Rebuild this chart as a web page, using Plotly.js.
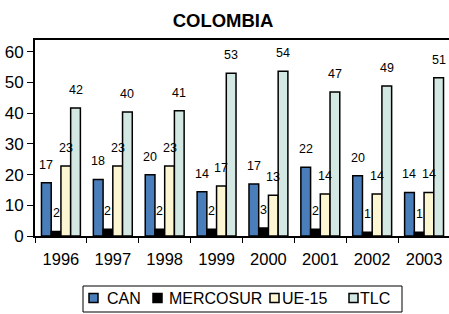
<!DOCTYPE html>
<html>
<head>
<meta charset="utf-8">
<script src="https://cdn.plot.ly/plotly-3.0.1.min.js"></script>
<style>
html,body{margin:0;padding:0;background:#fff;overflow:hidden;}
#chart{width:451px;height:314px;}
</style>
</head>
<body>
<div id="chart"></div>
<script>
const years = ['1996','1997','1998','1999','2000','2001','2002','2003'];
const seriesNames = ['CAN','MERCOSUR','UE-15','TLC'];
const CAN      = [17.3, 18.4, 19.9, 14.4, 16.9, 22.4, 19.6, 14.2];
const MERCOSUR = [1.5, 2.2, 2.2, 2.2, 2.6, 2.2, 1.2, 1.2];
const UE15     = [22.8, 22.8, 22.8, 16.3, 13.3, 13.7, 13.7, 14.2];
const TLC      = [41.7, 40.4, 40.8, 53.0, 53.6, 46.9, 48.8, 51.5];
const labelCAN      = [17, 18, 20, 14, 17, 22, 20, 14];
const labelMERCOSUR = [2, 2, 2, 2, 3, 2, 1, 1];
const labelUE15     = [23, 23, 23, 17, 13, 14, 14, 14];
const labelTLC      = [42, 40, 41, 53, 54, 47, 49, 51];

const values = [CAN, MERCOSUR, UE15, TLC];
const labels = [labelCAN, labelMERCOSUR, labelUE15, labelTLC];
const colors = ['#4a7ebb', '#000000', '#fdf6d3', '#d3e7e3'];

const FONT = 'Liberation Sans, Arial, sans-serif';
const W = 451, H = 314;
const margin = {l: 35, r: 1, t: 40, b: 78};
const bargap = 0.25;
const plotW = W - margin.l - margin.r;
const plotH = H - margin.t - margin.b;
const barW = plotW / years.length * (1 - bargap) / seriesNames.length;
const px2x = p => (p - margin.l) / plotW;
const px2y = p => (H - margin.b - p) / plotH;

const traces = seriesNames.map((name, i) => ({
  type: 'bar',
  name: name,
  x: years,
  y: values[i],
  marker: {color: colors[i], line: {color: '#000', width: 1.5}},
  hoverinfo: 'skip',
  showlegend: false
}));

const annotations = [];
const shapes = [];
seriesNames.forEach((name, i) => {
  years.forEach((yr, j) => {
    annotations.push({
      x: j, y: values[i][j], xref: 'x', yref: 'y',
      text: String(labels[i][j]),
      showarrow: false,
      yanchor: 'bottom',
      xshift: (i - 1.5) * barW,
      yshift: 9,
      font: {family: FONT, size: 12.5, color: '#000'}
    });
  });
});

// custom legend (box, swatches, labels)
const legBox = {x0: 83, x1: 402, y0: 286, y1: 312};
shapes.push({type: 'rect', xref: 'paper', yref: 'paper',
  x0: px2x(legBox.x0), x1: px2x(legBox.x1), y0: px2y(legBox.y1), y1: px2y(legBox.y0),
  line: {color: '#000', width: 1}, fillcolor: 'rgba(0,0,0,0)'});
const legSwatchX = [89, 153, 270, 349];
const legTextX = [105, 167, 280, 358];
const swSize = 9, legMidY = 298;
seriesNames.forEach((name, i) => {
  shapes.push({type: 'rect', xref: 'paper', yref: 'paper',
    x0: px2x(legSwatchX[i]), x1: px2x(legSwatchX[i] + swSize),
    y0: px2y(legMidY + swSize / 2), y1: px2y(legMidY - swSize / 2),
    line: {color: '#000', width: 1.5}, fillcolor: colors[i]});
  annotations.push({x: px2x(legTextX[i]), y: px2y(legMidY), xref: 'paper', yref: 'paper',
    text: name, showarrow: false, xanchor: 'left', yanchor: 'middle',
    font: {family: FONT, size: 16, color: '#000'}});
});

const layout = {
  width: W, height: H,
  margin: margin,
  paper_bgcolor: '#fff',
  plot_bgcolor: '#fff',
  font: {family: FONT, color: '#000'},
  title: {text: '<b>COLOMBIA</b>', font: {size: 18.5, color: '#000'}, x: 223 / W, xref: 'container', xanchor: 'center', y: 1 - 21 / H, yanchor: 'middle'},
  barmode: 'group',
  bargap: bargap,
  bargroupgap: 0,
  showlegend: false,
  xaxis: {
    type: 'category',
    range: [-0.5, years.length - 0.5],
    showline: true, linecolor: '#000', linewidth: 2, mirror: true,
    ticks: 'outside', tickson: 'boundaries', ticklen: 5, tickcolor: '#000', tickwidth: 1,
    tickfont: {size: 16.5, color: '#000'},
    ticklabelstandoff: 7,
    showgrid: false, zeroline: false, fixedrange: true
  },
  yaxis: {
    range: [0, 63.8],
    tickvals: [0, 10, 20, 30, 40, 50, 60],
    showline: true, linecolor: '#000', linewidth: 2, mirror: true,
    ticks: 'outside', ticklen: 6, tickcolor: '#000', tickwidth: 1,
    tickfont: {size: 17, color: '#000'},
    showgrid: false, zeroline: false, fixedrange: true
  },
  shapes: shapes,
  annotations: annotations
};

Plotly.newPlot('chart', traces, layout, {displayModeBar: false, staticPlot: true});
</script>
</body>
</html>
